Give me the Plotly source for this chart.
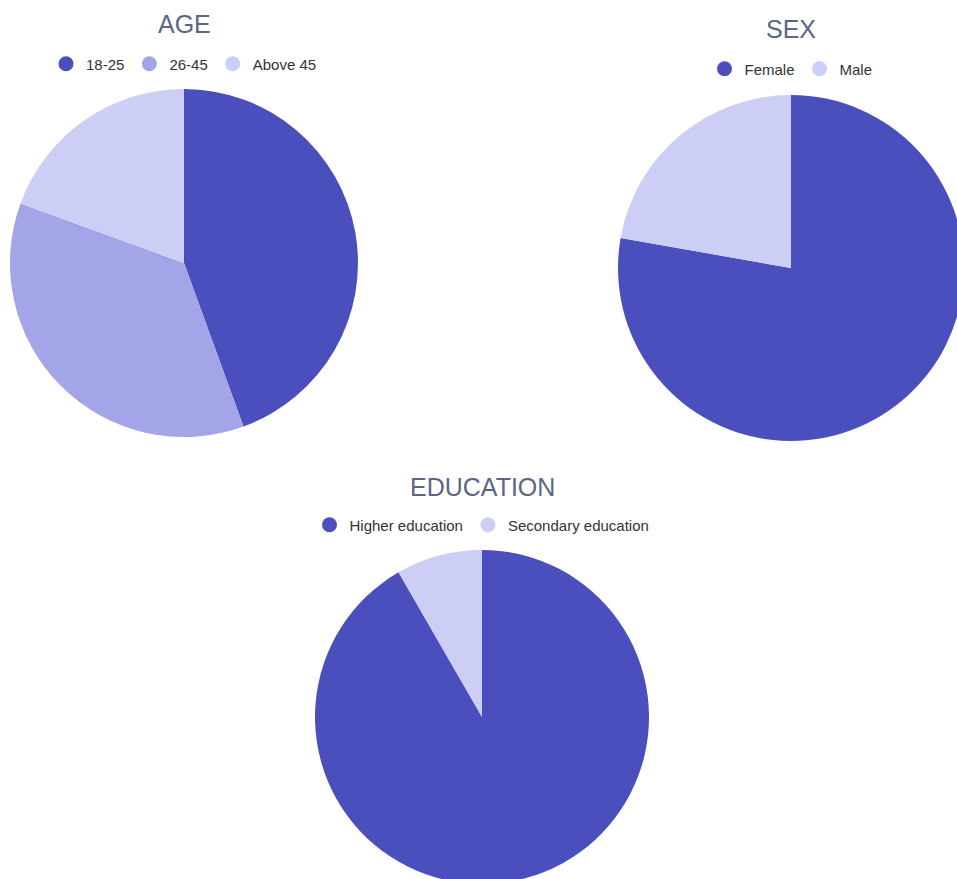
import plotly.graph_objects as go

# Survey sample (n = 36 respondents)
age_labels = ["18-25", "26-45", "Above 45"]
age_counts = [16, 13, 7]

sex_labels = ["Female", "Male"]
sex_counts = [28, 8]

edu_labels = ["Higher education", "Secondary education"]
edu_counts = [33, 3]

DARK = "#4b4fbd"
MID = "#a3a5e8"
LIGHT = "#cdcef5"
age_colors = [DARK, MID, LIGHT]
sex_colors = [DARK, LIGHT]
edu_colors = [DARK, LIGHT]

W, H = 966, 886
TITLE_COLOR = "#5b6685"
TEXT_COLOR = "#333333"
FONT = "Liberation Sans, Arial, sans-serif"


def px_x(x):
    return x / W


def px_y(y):
    return 1 - y / H


def domain(cx, cy, r):
    return dict(x=[px_x(cx - r), px_x(cx + r)], y=[px_y(cy + r), px_y(cy - r)])


panels = [
    # (title, labels, values, colors, centre x, centre y, radius, title y, legend y, legend id)
    ("AGE", age_labels, age_counts, age_colors, 184, 263, 174, 24, 64, "legend"),
    ("SEX", sex_labels, sex_counts, sex_colors, 791, 268, 173, 29, 69, "legend2"),
    ("EDUCATION", edu_labels, edu_counts, edu_colors, 482, 717, 167, 487, 525, "legend3"),
]

fig = go.Figure()
annotations = []
legends = {}

for title, labels, values, colors, cx, cy, r, ty, ly, leg in panels:
    fig.add_trace(go.Pie(
        labels=labels,
        values=values,
        marker=dict(colors=colors, line=dict(width=0)),
        sort=False,
        direction="clockwise",
        rotation=0,
        textinfo="none",
        hoverinfo="label+value+percent",
        showlegend=False,
        domain=domain(cx, cy, r),
    ))
    # Circle legend entries for each category
    for lab, col in zip(labels, colors):
        fig.add_trace(go.Scatter(
            x=[None], y=[None], mode="markers", name=lab,
            marker=dict(symbol="circle", size=15, color=col),
            legend=leg, showlegend=True, hoverinfo="skip",
        ))
    annotations.append(dict(
        text=title, x=px_x(cx), y=px_y(ty), xref="paper", yref="paper",
        xanchor="center", yanchor="middle", showarrow=False,
        font=dict(size=25, color=TITLE_COLOR, family=FONT),
    ))
    legends[leg] = dict(
        orientation="h", x=px_x(cx), y=px_y(ly), xanchor="center", yanchor="middle",
        bgcolor="rgba(0,0,0,0)", font=dict(size=15, color=TEXT_COLOR, family=FONT),
        itemclick=False, itemdoubleclick=False,
    )

fig.update_layout(
    width=W, height=H,
    margin=dict(l=0, r=0, t=0, b=0),
    paper_bgcolor="white", plot_bgcolor="white",
    xaxis=dict(visible=False), yaxis=dict(visible=False),
    annotations=annotations,
    font=dict(family=FONT),
    **legends,
)

fig.write_html("out.html")
